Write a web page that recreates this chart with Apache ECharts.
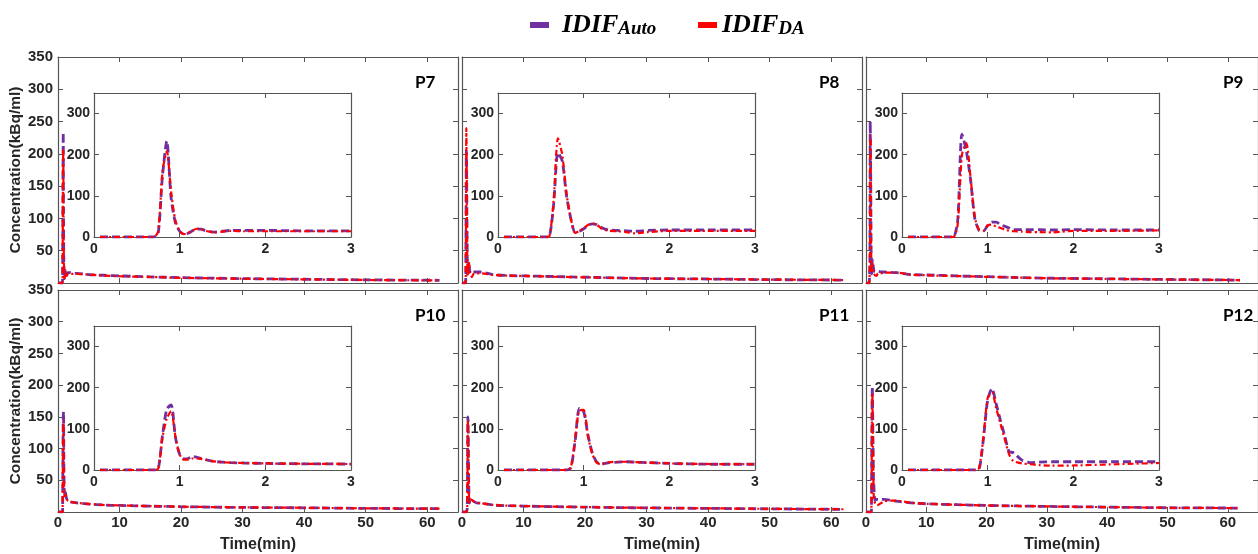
<!DOCTYPE html>
<html>
<head>
<meta charset="utf-8">
<script src="https://cdn.jsdelivr.net/npm/echarts@6/dist/echarts.min.js"></script>
<style>
  html, body { margin: 0; padding: 0; background: #fff; }
  #chart { width: 1258px; height: 554px; }
</style>
</head>
<body>
<div id="chart"></div>
<script>
// sample times (min), shared by all subjects
const timeMin = [0.07, 0.3, 0.55, 0.6, 0.65, 0.7, 0.75, 0.8, 0.85, 0.9, 0.95, 1.0, 1.05, 1.1, 1.15, 1.2, 1.25, 1.3, 1.4, 1.5,
  1.6, 1.75, 2.0, 2.5, 3.0, 5, 7.5, 10, 15, 20, 25, 30, 40, 50, 62];

const panelNames = ['P7', 'P8', 'P9', 'P10', 'P11', 'P12'];

// concentration kBq/ml, IDIF_Auto (purple) and IDIF_DA (red)
const autoP7 = [0, 0, 0, 0, 0, 0, 10, 150, 233, 95, 35, 14, 7, 9, 15, 20, 19, 16, 12, 14, 16, 16, 16, 15, 15, 13, 12, 11, 9.5, 8.3, 7.5, 6.8, 5.8, 4.9, 4.2];
const daP7 = [0, 0, 0, 0, 0, 0, 15, 160, 208, 110, 40, 15, 7, 10, 16, 20, 19, 15, 11, 13, 15, 14, 14, 14, 14, 13, 11.5, 10.5, 9.3, 8, 7.3, 6.6, 5.6, 4.7, 4];
const autoP8 = [0, 0, 0, 2, 80, 205, 185, 100, 45, 12, 14, 20, 28, 32, 30, 24, 19, 17, 16, 15, 14, 16, 17, 17, 17, 13, 11.5, 11, 10, 9, 8, 7, 6.2, 5.2, 4.5];
const daP8 = [0, 0, 0, 2, 90, 240, 200, 105, 45, 10, 15, 21, 29, 33, 30, 22, 17, 15, 14, 12, 9, 12, 15, 15, 15, 12.5, 11.5, 11, 9.7, 8.8, 7.8, 7, 6.2, 5.3, 4.6];
const autoP9 = [0, 0, 0, 0, 40, 250, 210, 140, 45, 16, 14, 28, 36, 36, 30, 26, 22, 18, 18, 18, 18, 17, 18, 17, 17, 16, 13, 12.4, 11, 9.8, 8.5, 7.5, 6.5, 5.5, 4.5];
const daP9 = [0, 0, 0, 0, 30, 200, 228, 145, 48, 17, 15, 28, 30, 25, 22, 18, 15, 14, 13, 12, 12, 11, 15, 15, 16, 16, 13, 12, 10.8, 9.6, 8.4, 7.4, 6.4, 5.4, 4.5];
const autoP10 = [0, 0, 0, 0, 0, 0, 3, 85, 148, 158, 80, 38, 27, 28, 33, 31, 28, 25, 21, 19, 18, 17, 16, 15, 14.5, 12.5, 11, 10.3, 9.2, 8.3, 7.7, 7.2, 6.6, 5.7, 5.2];
const daP10 = [0, 0, 0, 0, 0, 0, 3, 80, 125, 143, 82, 38, 25, 25, 28, 28, 27, 25, 21, 19, 18, 17, 16, 15, 14.5, 12.8, 11, 10.4, 9.3, 8.4, 7.8, 7.3, 6.7, 5.8, 5.3];
const autoP11 = [0, 0, 0, 0, 0, 0, 0, 0, 5, 70, 150, 142, 85, 42, 20, 14, 16, 18, 19, 20, 19, 18, 16, 14, 14, 11, 10, 9.3, 8.4, 7.7, 7, 6.5, 5.7, 5, 4.2];
const daP11 = [0, 0, 0, 0, 0, 0, 0, 0, 6, 75, 145, 146, 82, 40, 18, 14, 17, 19, 20, 20, 19, 18, 16, 14.5, 14, 11.2, 10, 9.4, 8.5, 7.8, 7.1, 6.6, 5.8, 5, 4.3];
const autoP12 = [0, 0, 0, 0, 0, 0, 0, 0, 0, 2, 75, 170, 198, 160, 120, 82, 45, 42, 24, 18, 19, 20, 20, 20, 20, 17, 14.5, 13, 11.5, 10.3, 9.5, 8.8, 7.7, 6.7, 6.2];
const daP12 = [0, 0, 0, 0, 0, 0, 0, 0, 0, 5, 80, 175, 188, 150, 112, 75, 38, 22, 16, 14, 12, 10.5, 11, 14, 17, 18, 14.5, 13, 11.5, 10.3, 9.5, 8.8, 7.7, 6.7, 6.2];

const autoAll = [autoP7, autoP8, autoP9, autoP10, autoP11, autoP12];
const daAll = [daP7, daP8, daP9, daP10, daP11, daP12];

const colLeft = [58, 462, 866];
const rowTop = [57, 290];
const panelW = 400, panelH = 226;
const insetOff = 36, insetW = 257, insetH = 144;

const axisCol = '#555';
const labelCol = '#262626';
const purple = '#7030A0';
const red = '#FF0000';
const sans = 'Liberation Sans';

const grids = [], xAxes = [], yAxes = [], series = [], titles = [];

function axisBase(gridIndex, min, max, interval, position) {
  return {
    type: 'value', gridIndex, min, max, interval, position,
    axisLine: { show: true, onZero: false, lineStyle: { color: axisCol, width: 1.2 } },
    axisTick: { show: true, inside: true, length: 5, lineStyle: { color: axisCol, width: 1 } },
    axisLabel: { show: false },
    splitLine: { show: false }
  };
}

function lineSeries(name, xi, yi, data, isAuto) {
  return {
    type: 'line', name, xAxisIndex: xi, yAxisIndex: yi, data,
    showSymbol: false, smooth: 0.25, animation: false,
    itemStyle: { color: isAuto ? purple : red },
    lineStyle: isAuto
      ? { color: purple, width: 2.8, type: [8, 4] }
      : { color: red, width: 2.2, type: [6, 3, 2, 3] }
  };
}

panelNames.forEach((pname, i) => {
  const r = Math.floor(i / 3), c = i % 3;
  const left = colLeft[c], top = rowTop[r];

  // main panel
  const gMain = grids.length;
  grids.push({ left, top, width: panelW, height: panelH, show: true, borderWidth: 0, backgroundColor: '#fff' });
  const xMain = xAxes.length;
  const xb = axisBase(gMain, 0, 65, 10, 'bottom');
  if (r === 1) {
    xb.axisLabel = { show: true, margin: 3, showMaxLabel: false, fontSize: 15, fontWeight: 'bold', fontFamily: sans, color: labelCol,
      formatter: v => (v % 10 === 0 ? String(v) : '') };
    xb.name = 'Time(min)';
    xb.nameLocation = 'middle';
    xb.nameGap = 25;
    xb.nameTextStyle = { fontSize: 16, fontWeight: 'bold', fontFamily: sans, color: labelCol };
  }
  xAxes.push(xb);
  xAxes.push(axisBase(gMain, 0, 65, 10, 'top'));
  const yMain = yAxes.length;
  const yl = axisBase(gMain, 0, 350, 50, 'left');
  if (c === 0) {
    yl.axisLabel = { show: true, margin: 5, fontSize: 15, fontWeight: 'bold', fontFamily: sans, color: labelCol,
      formatter: v => (v === 0 ? '' : String(v)) };
    yl.name = 'Concentration(kBq/ml)';
    yl.nameLocation = 'middle';
    yl.nameGap = 28;
    yl.nameTextStyle = { fontSize: 15.5, fontWeight: 'bold', fontFamily: sans, color: labelCol };
  }
  yAxes.push(yl);
  yAxes.push(axisBase(gMain, 0, 350, 50, 'right'));

  // inset panel (first 3 min)
  const gIn = grids.length;
  grids.push({ left: left + insetOff, top: top + insetOff, width: insetW, height: insetH, show: true, borderWidth: 0, backgroundColor: '#fff' });
  const xIn = xAxes.length;
  const xi = axisBase(gIn, 0, 3, 1, 'bottom');
  xi.axisLabel = { show: true, margin: 5, fontSize: 14, fontWeight: 'bold', fontFamily: sans, color: labelCol };
  xAxes.push(xi);
  xAxes.push(axisBase(gIn, 0, 3, 1, 'top'));
  const yIn = yAxes.length;
  const yi = axisBase(gIn, 0, 350, 100, 'left');
  yi.axisLabel = { show: true, margin: 4, showMaxLabel: false, fontSize: 14, fontWeight: 'bold', fontFamily: sans, color: labelCol,
    formatter: v => (v % 100 === 0 ? String(v) : '') };
  yAxes.push(yi);
  yAxes.push(axisBase(gIn, 0, 350, 100, 'right'));

  const auto = timeMin.map((t, k) => [t, autoAll[i][k]]);
  const da = timeMin.map((t, k) => [t, daAll[i][k]]);
  series.push(lineSeries('IDIF_Auto', xMain, yMain, auto, true));
  series.push(lineSeries('IDIF_DA', xMain, yMain, da, false));
  series.push(lineSeries('IDIF_Auto', xIn, yIn, auto.filter(p => p[0] <= 3), true));
  series.push(lineSeries('IDIF_DA', xIn, yIn, da.filter(p => p[0] <= 3), false));

  titles.push({
    text: pname, left: left + 357, top: top + 17, padding: 0,
    textStyle: { fontSize: 17, fontWeight: 'bold', fontFamily: 'Lato', color: '#000' }
  });
});

const legendRich = {
  m: { fontFamily: 'Liberation Serif', fontStyle: 'italic', fontWeight: 'bold', fontSize: 26, color: '#000', lineHeight: 28, verticalAlign: 'middle' },
  s: { fontFamily: 'Liberation Serif', fontStyle: 'italic', fontWeight: 'bold', fontSize: 19, color: '#000', lineHeight: 14, verticalAlign: 'bottom' }
};

function legendAt(left, name, sub, padLeft) {
  return {
    left, top: 12, padding: 0, icon: 'rect', itemWidth: 19, itemHeight: 6,
    data: [name], selectedMode: false,
    formatter: () => '{m|IDIF}{s|' + sub + '}',
    textStyle: { rich: legendRich, padding: [0, 0, 0, padLeft] }
  };
}

const chart = echarts.init(document.getElementById('chart'));
chart.setOption({
  animation: false,
  backgroundColor: '#fff',
  title: titles,
  legend: [legendAt(530, 'IDIF_Auto', 'Auto', 8), legendAt(698, 'IDIF_DA', 'DA', 0)],
  grid: grids,
  xAxis: xAxes,
  yAxis: yAxes,
  series
});
</script>
</body>
</html>
